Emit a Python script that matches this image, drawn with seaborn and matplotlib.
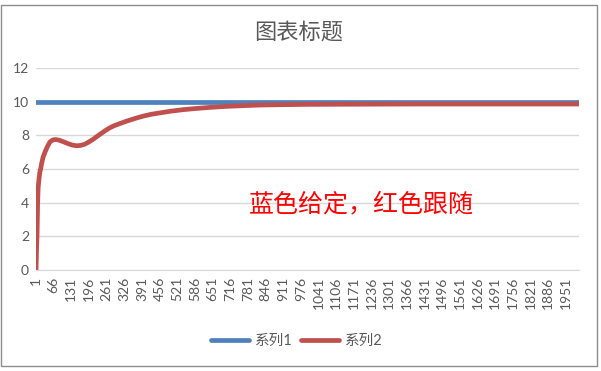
import numpy as np
import pandas as pd
import seaborn as sns
import matplotlib.pyplot as plt
from matplotlib.patches import Rectangle

# series 1: set value (flat)
s1_idx = [1, 2000]
s1_val = [10, 10]

# series 2: response
s2_idx = [1, 3, 5, 7, 9, 12, 15, 18, 22, 27, 34, 42, 52, 62, 72, 85, 100, 120,
          135, 150, 165, 180, 195, 211, 225, 240, 256, 273, 290, 310, 334, 365,
          395, 425, 456, 500, 540, 579, 640, 701, 760, 824, 900, 1000, 1200,
          1400, 1600, 1800, 2000]
s2_val = [0, 1.2, 2.2, 4.0, 4.9, 5.4, 5.8, 6.0, 6.35, 6.7, 7.0, 7.3, 7.6, 7.72,
          7.75, 7.72, 7.63, 7.5, 7.42, 7.38, 7.4, 7.47, 7.6, 7.76, 7.93, 8.1,
          8.28, 8.45, 8.58, 8.7, 8.84, 9.0, 9.14, 9.25, 9.33, 9.44, 9.52, 9.58,
          9.66, 9.72, 9.76, 9.8, 9.82, 9.84, 9.85, 9.86, 9.86, 9.86, 9.86]

x_ticks = list(range(1, 2000, 65))
y_ticks = [0, 2, 4, 6, 8, 10, 12]

title = "图表标题"
note = "蓝色给定，红色跟随"
names = ["系列1", "系列2"]

sns.set_style("white")
plt.rcParams['font.family'] = ['Lato', 'Noto Sans CJK SC', 'DejaVu Sans']

df = pd.concat([
    pd.DataFrame({"idx": s1_idx, "val": s1_val, "series": names[0]}),
    pd.DataFrame({"idx": s2_idx, "val": s2_val, "series": names[1]}),
])

fig = plt.figure(figsize=(6.01, 3.71), dpi=100)
ax = fig.add_axes([36 / 601, 1 - 270 / 371, 543 / 601, 202 / 371])

sns.lineplot(data=df, x="idx", y="val", hue="series",
             palette={names[0]: "#4f81bd", names[1]: "#c0504d"},
             linewidth=3.4, ax=ax, legend=False)

ax.set_xlim(1, 2000)
ax.set_ylim(0, 12)
ax.set_xticks(x_ticks)
ax.set_xticklabels([str(t) for t in x_ticks], rotation=90, fontsize=10, color="#595959")
ax.set_yticks(y_ticks)
ax.set_yticklabels([str(t) for t in y_ticks], fontsize=10, color="#595959")
ax.tick_params(axis="both", length=0, pad=5)
ax.grid(axis="y", color="#d9d9d9", linewidth=1)
ax.grid(axis="x", visible=False)
for side in ["top", "right", "left"]:
    ax.spines[side].set_visible(False)
ax.spines["bottom"].set_color("#d9d9d9")
ax.set_xlabel("")
ax.set_ylabel("")

fig.text(0.497, 1 - 32 / 371, title, ha="center", va="center",
         fontsize=16, color="#595959", family=['Noto Sans CJK SC'])
fig.text(249 / 601, 1 - 204 / 371, note, ha="left", va="center",
         fontsize=18, color="#ff0000", family=['Noto Sans CJK SC'])

handles = [plt.Line2D([], [], color="#4f81bd", linewidth=3.4),
           plt.Line2D([], [], color="#c0504d", linewidth=3.4)]
fig.legend(handles, names, loc="center", bbox_to_anchor=(297 / 601, 1 - 341 / 371),
           ncol=2, frameon=False, fontsize=10.5, handlelength=2.6,
           columnspacing=0.6, handletextpad=0.4, labelcolor="#595959")

fig.add_artist(Rectangle((1 / 601, 1 - 366 / 371), 596 / 601, 361 / 371,
                         transform=fig.transFigure, fill=False,
                         edgecolor="#8c8c8c", linewidth=1))

fig.savefig("out.png", dpi=100)
